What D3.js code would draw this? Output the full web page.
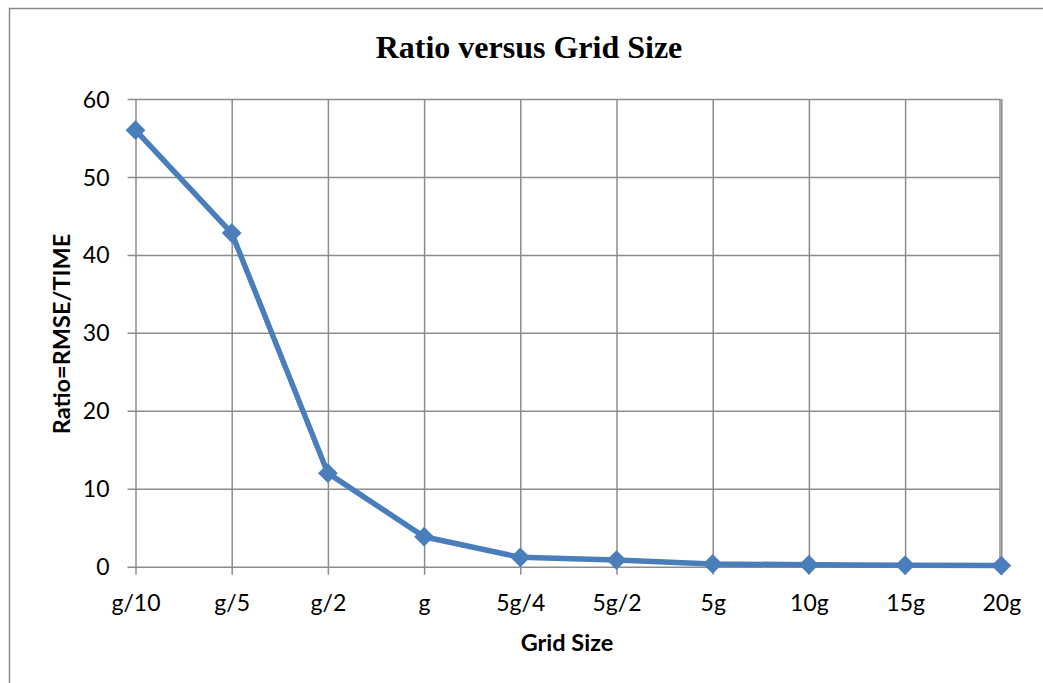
<!DOCTYPE html>
<html>
<head>
<meta charset="utf-8">
<script src="https://cdn.jsdelivr.net/npm/d3@7"></script>
<style>
  html, body { margin: 0; padding: 0; background: #fff; }
  svg { display: block; }
</style>
</head>
<body>
<svg id="chart" width="1043" height="683"></svg>
<script>
// Grid size categories and the measured RMSE/TIME ratio for each
const categories = ["g/10", "g/5", "g/2", "g", "5g/4", "5g/2", "5g", "10g", "15g", "20g"];
const ratios = [56.0, 42.8, 12.0, 3.85, 1.2, 0.85, 0.35, 0.25, 0.2, 0.15];
const yTicks = [0, 10, 20, 30, 40, 50, 60];

const titleText = "Ratio versus Grid Size";
const xTitle = "Grid Size";
const yTitle = "Ratio=RMSE/TIME";

const W = 1043, H = 683;
const plot = { left: 135.5, right: 1000, top: 99, bottom: 566.7 };
const lineColor = "#4a7ebb";
const gridColor = "#8c8c8c";
const sans = "Lato, 'Noto Sans', sans-serif";

const svg = d3.select("#chart");

// Outer chart frame
svg.append("rect")
  .attr("x", 9.5).attr("y", 8.5)
  .attr("width", W + 20).attr("height", H + 20)
  .attr("fill", "#fff")
  .attr("stroke", "#8a8a8a").attr("stroke-width", 1.5);

const x = d3.scalePoint()
  .domain(categories)
  .range([plot.left, plot.left + 96.2 * (categories.length - 1)]);

const y = d3.scaleLinear()
  .domain([0, 60])
  .range([plot.bottom, plot.top]);

// Horizontal gridlines with left tick marks
const yAxis = d3.axisLeft(y)
  .tickValues(yTicks)
  .tickSize(-(plot.right - plot.left))
  .tickFormat(d3.format("d"));

const gy = svg.append("g")
  .attr("transform", `translate(${plot.left},0)`)
  .call(yAxis);
gy.select(".domain").remove();
gy.selectAll(".tick line")
  .attr("x1", -8)
  .attr("stroke", gridColor).attr("stroke-width", 1.5);
gy.selectAll(".tick text")
  .attr("font-family", sans).attr("font-size", 23)
  .attr("fill", "#000").attr("dy", "0.35em").attr("x", -26);

// Vertical gridlines with tick marks below the axis
const xAxis = d3.axisBottom(x)
  .tickSize(-(plot.bottom - plot.top))
  .tickPadding(0);

const gx = svg.append("g")
  .attr("transform", `translate(0,${plot.bottom})`)
  .call(xAxis);
gx.select(".domain").remove();
gx.selectAll(".tick line")
  .attr("y2", 8)
  .attr("y1", -(plot.bottom - plot.top))
  .attr("stroke", gridColor).attr("stroke-width", 1.5);
gx.selectAll(".tick text")
  .attr("font-family", sans).attr("font-size", 23)
  .attr("fill", "#000").attr("y", 44).attr("dy", 0);

// Right border of the plot area
svg.append("line")
  .attr("x1", plot.right).attr("x2", plot.right)
  .attr("y1", plot.top).attr("y2", plot.bottom)
  .attr("stroke", gridColor).attr("stroke-width", 1.5);

// Data line
const line = d3.line()
  .x((d, i) => x(categories[i]))
  .y(d => y(d));

svg.append("path")
  .datum(ratios)
  .attr("fill", "none")
  .attr("stroke", lineColor)
  .attr("stroke-width", 5.5)
  .attr("stroke-linejoin", "round")
  .attr("d", line);

// Diamond markers
const diamond = d3.symbol().type(d3.symbolDiamond2).size(250);
svg.selectAll(".marker")
  .data(ratios)
  .join("path")
  .attr("class", "marker")
  .attr("d", diamond)
  .attr("transform", (d, i) => `translate(${x(categories[i])},${y(d)})`)
  .attr("fill", lineColor);

// Titles
svg.append("text")
  .attr("x", 529).attr("y", 57.5)
  .attr("text-anchor", "middle")
  .attr("font-family", "'Liberation Serif', 'Times New Roman', serif")
  .attr("font-weight", "bold").attr("font-size", 32)
  .text(titleText);

svg.append("text")
  .attr("x", 567).attr("y", 651)
  .attr("text-anchor", "middle")
  .attr("font-family", sans)
  .attr("font-weight", "bold").attr("font-size", 23.5)
  .text(xTitle);

svg.append("text")
  .attr("transform", `translate(70,334) rotate(-90)`)
  .attr("text-anchor", "middle")
  .attr("font-family", sans)
  .attr("font-weight", "bold").attr("font-size", 23.5)
  .text(yTitle);
</script>
</body>
</html>
